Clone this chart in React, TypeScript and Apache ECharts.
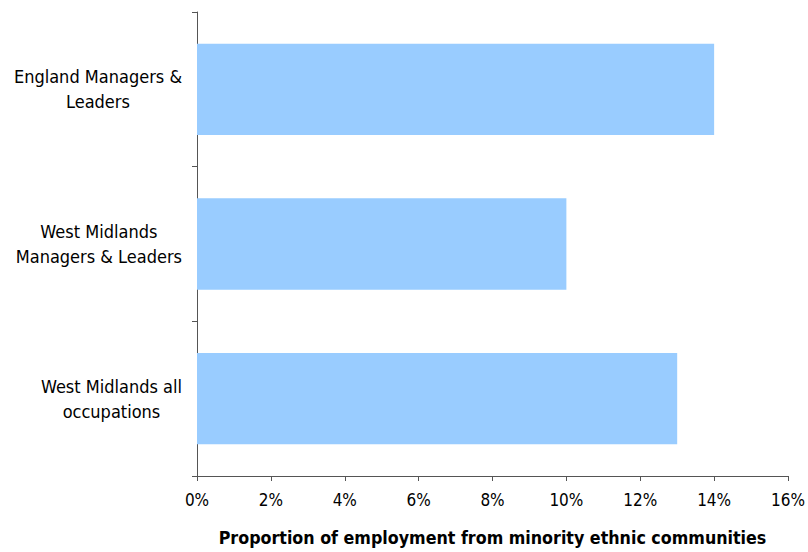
import React, { useEffect, useRef } from "react";
import * as echarts from "echarts";

const categories = [
  "England Managers &\nLeaders",
  "West Midlands\nManagers & Leaders",
  "West Midlands all\noccupations",
];
const values = [14, 10, 13];
const xTicks = { min: 0, max: 16, interval: 2 };
const axisTitle = "Proportion of employment from minority ethnic communities";

const FONT = "'DejaVu Sans Condensed', 'DejaVu Sans', sans-serif";

export default function App() {
  const ref = useRef<HTMLDivElement>(null);
  useEffect(() => {
    document.body.style.margin = "0";
    const chart = echarts.init(ref.current!, null, { renderer: "svg" });
    chart.setOption({
      animation: false,
      backgroundColor: "#ffffff",
      grid: { left: 197, right: 19, top: 12, bottom: 76, containLabel: false },
      xAxis: {
        type: "value",
        min: xTicks.min,
        max: xTicks.max,
        interval: xTicks.interval,
        splitLine: { show: false },
        axisLine: { show: true, lineStyle: { color: "#555", width: 1 } },
        axisTick: { show: true, length: 5, lineStyle: { color: "#555" } },
        axisLabel: {
          formatter: (v: number) => `${v}%`,
          color: "#000",
          fontFamily: FONT,
          fontSize: 17,
          margin: 15,
        },
        name: axisTitle,
        nameLocation: "middle",
        nameGap: 53,
        nameTextStyle: {
          color: "#000",
          fontFamily: FONT,
          fontSize: 17.7,
          fontWeight: "bold",
        },
      },
      yAxis: {
        type: "category",
        data: categories,
        inverse: true,
        axisLine: { show: true, lineStyle: { color: "#555", width: 1 } },
        axisTick: { show: true, length: 5, lineStyle: { color: "#555" } },
        axisLabel: {
          color: "#000",
          fontFamily: FONT,
          fontSize: 18,
          margin: 15,
          align: "right",
          formatter: (v: string) =>
            v
              .split("\n")
              .map((l) => `{c|${l}}`)
              .join("\n"),
          rich: {
            c: {
              align: "center",
              fontFamily: FONT,
              fontSize: 18,
              lineHeight: 25,
              color: "#000",
            },
          },
        },
      },
      series: [
        {
          type: "bar",
          data: values,
          barCategoryGap: "41%",
          itemStyle: { color: "#99CCFF" },
        },
      ],
    });
    return () => chart.dispose();
  }, []);
  return <div ref={ref} style={{ width: 808, height: 552 }} />;
}
